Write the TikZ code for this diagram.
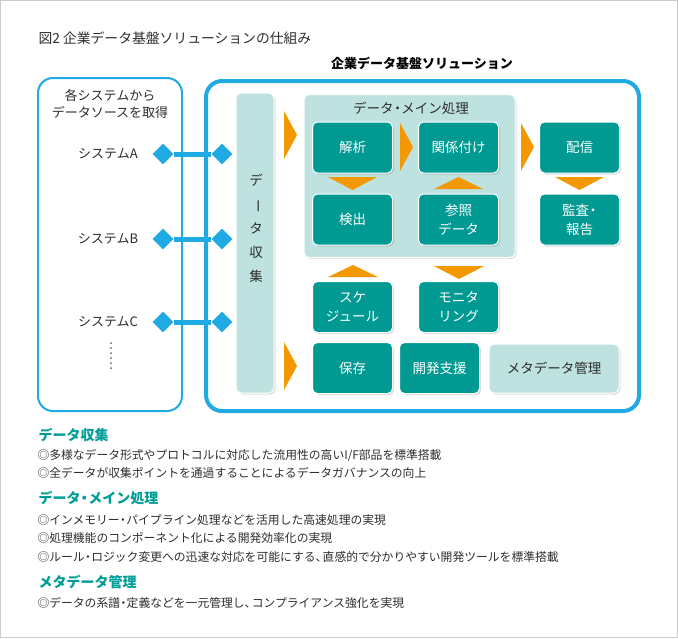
\documentclass[tikz,border=0pt]{standalone}
\usepackage{fontspec}
\setmainfont{Noto Sans CJK JP}
\usepackage{graphicx}
\usetikzlibrary{shapes.geometric, shadows}

\definecolor{lineblue}{RGB}{32,170,228}
\definecolor{boxteal}{RGB}{0,154,147}
\definecolor{paleteal}{RGB}{190,226,223}
\definecolor{arrorange}{RGB}{243,152,0}
\definecolor{headteal}{RGB}{0,158,150}
\definecolor{textgray}{RGB}{45,45,45}

% tight middle dot and comma
\newcommand{\nkg}{\kern-0.22em・\kern-0.22em}
\newcommand{\tdn}{、\kern-0.4em}

\begin{document}
\begin{tikzpicture}[x=1pt, y=-1pt,
  proc/.style={rectangle, rounded corners=5pt, fill=boxteal, draw=white, line width=1pt,
    text=white, minimum width=80pt, minimum height=51pt, align=center,
    font=\fontsize{13.5}{19}\selectfont,
    drop shadow={opacity=0.3, shadow xshift=1.5pt, shadow yshift=-1.5pt}},
  pale/.style={rectangle, rounded corners=5pt, fill=paleteal, draw=white, line width=1pt,
    drop shadow={opacity=0.25, shadow xshift=1.5pt, shadow yshift=-1.5pt}},
  dia/.style={diamond, fill=lineblue, inner sep=0pt, minimum size=21pt},
  link/.style={lineblue, line width=5pt},
  arr/.style={fill=arrorange},
  sys/.style={text=textgray, font=\fontsize{13}{17}\selectfont},
  head/.style={anchor=west, text=headteal, font=\fontsize{14}{16}\selectfont\bfseries},
  note/.style={anchor=west, text=textgray, font=\fontsize{11.8}{13}\selectfont}]

  \useasboundingbox (0,0) rectangle (678,638);
  \draw[black!20, line width=1pt] (0.5,0.5) rectangle (677.5,637.5);

  \node[anchor=west, text=textgray, font=\fontsize{13.8}{15}\selectfont] (title) at (35,38)
    {図2 企業データ基盤ソリューションの仕組み};

  % source systems
  \draw[lineblue, line width=2pt, rounded corners=15pt] (38,78) rectangle (182,411);
  \node[sys, align=center] (srctxt) at (110,104) {各システムから\\データソースを取得};
  \node[sys] (sysa) at (108,154) {システムA};
  \node[sys] (sysb) at (108,239) {システムB};
  \node[sys] (sysc) at (108,322) {システムC};
  \foreach \k in {0,...,5}
    \fill[black!60] (111,343+\k*5) circle (1);

  % solution frame
  \node[text=black, font=\fontsize{13}{15}\selectfont\bfseries] (soltitle) at (422,63)
    {企業データ基盤ソリューション};
  \draw[lineblue, line width=4pt, rounded corners=16pt] (206,81) rectangle (639,411);

  \node[pale, minimum width=38pt, minimum height=300pt] (collect) at (255,243) {};
  \node[text=textgray, align=center, font=\fontsize{13.5}{24}\selectfont] (colltxt) at (256,228)
    {デ\\\rotatebox[origin=c]{-90}{ー}\\タ\\収\\集};

  \node[pale, minimum width=211pt, minimum height=163pt] (mainpanel) at (409.5,176) {};
  \node[text=textgray, font=\fontsize{13.5}{16}\selectfont] (maintxt) at (411,108) {データ\nkg メイン処理};

  % links
  \foreach \s/\y in {a/154, b/239, c/322} {
    \node[dia] (l\s) at (163,\y) {};
    \node[dia] (r\s) at (222,\y) {};
    \draw[link] (l\s) -- (r\s);
  }

  % process boxes
  \node[proc] (parse) at (352.5,147.5) {解析};
  \node[proc] (relate) at (458.5,147.5) {関係付け};
  \node[proc] (detect) at (352.5,219.5) {検出};
  \node[proc] (refdata) at (458.5,219.5) {参照\\データ};
  \node[proc] (deliver) at (579.5,147.5) {配信};
  \node[proc] (audit) at (579.5,219.5) {監査\nkg\\報告};
  \node[proc] (sched) at (352.5,307) {スケ\\ジュール};
  \node[proc] (monitor) at (458.5,307) {モニタ\\リング};
  \node[proc] (store) at (352.5,368) {保存};
  \node[proc] (devsup) at (439.5,368) {開発支援};
  \node[pale, minimum width=130pt, minimum height=49pt, text=textgray,
    font=\fontsize{13.5}{16}\selectfont] (meta) at (554,368.5) {メタデータ管理};

  % orange arrows
  \fill[arr] (284,111) -- (297,135) -- (284,159) -- cycle;
  \fill[arr] (284,342) -- (297,366) -- (284,390) -- cycle;
  \fill[arr] (400,123) -- (413,147) -- (400,171) -- cycle;
  \fill[arr] (521,123) -- (534,147) -- (521,171) -- cycle;
  \fill[arr] (328,177) -- (377,177) -- (352.5,190) -- cycle;
  \fill[arr] (555,177) -- (604,177) -- (579.5,190) -- cycle;
  \fill[arr] (434,189) -- (483,189) -- (458.5,177) -- cycle;
  \fill[arr] (328,277) -- (378,277) -- (353,265) -- cycle;
  \fill[arr] (434,266) -- (484,266) -- (459,279) -- cycle;

  % notes
  \node[head] (h1) at (35,435) {データ収集};
  \node[note] (n11) at (34,456) {◎多様なデータ形式やプロトコルに対応した流用性の高いI/F部品を標準搭載};
  \node[note] (n12) at (34,473) {◎全データが収集ポイントを通過することによるデータガバナンスの向上};
  \node[head] (h2) at (35,498) {データ\nkg メイン処理};
  \node[note] (n21) at (34,520) {◎インメモリー\nkg パイプライン処理などを活用した高速処理の実現};
  \node[note] (n22) at (34,538) {◎処理機能のコンポーネント化による開発効率化の実現};
  \node[note] (n23) at (34,557) {◎ルール\nkg ロジック変更への迅速な対応を可能にする\tdn 直感的で分かりやすい開発ツールを標準搭載};
  \node[head] (h3) at (35,582) {メタデータ管理};
  \node[note] (n31) at (34,603) {◎データの系譜\nkg 定義などを一元管理し\tdn コンプライアンス強化を実現};
\end{tikzpicture}
\end{document}
